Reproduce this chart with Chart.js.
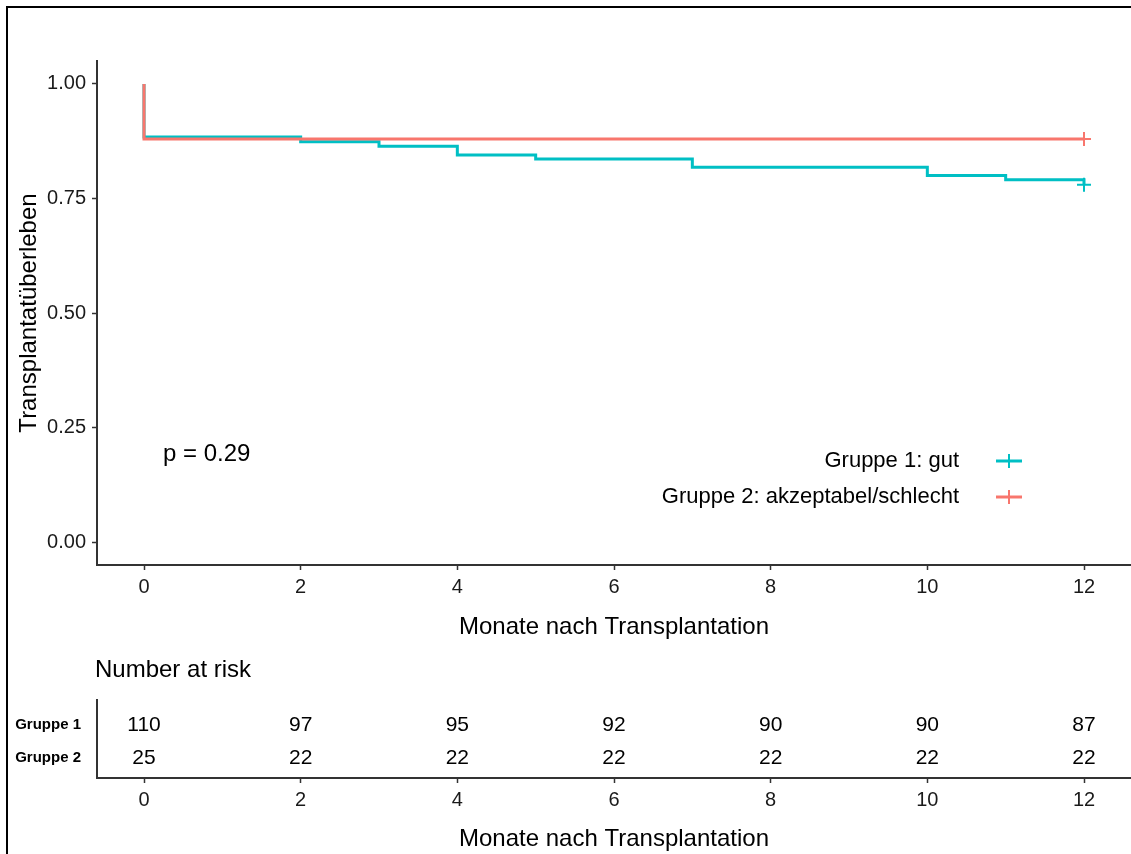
<!DOCTYPE html>
<html>
<head>
<meta charset="utf-8">
<script src="https://cdn.jsdelivr.net/npm/chart.js@4.4.1/dist/chart.umd.min.js"></script>
<style>
  html, body { margin: 0; padding: 0; background: #fff; }
  #page { position: relative; width: 1131px; height: 854px; overflow: hidden; }
  #frame { position: absolute; left: 6px; top: 6px; width: 1200px; height: 900px;
           border-left: 2px solid #000; border-top: 2px solid #000; }
  #kmBox { position: absolute; left: 0; top: 0; width: 1131px; height: 650px; }
  #riskBox { position: absolute; left: 0; top: 650px; width: 1131px; height: 204px; }
</style>
</head>
<body>
<div id="page">
  <div id="frame"></div>
  <div id="kmBox"><canvas id="km"></canvas></div>
  <div id="riskBox"><canvas id="risk"></canvas></div>
</div>
<script>
// values
const months = [0, 2, 4, 6, 8, 10, 12];
const yTicks = [0, 0.25, 0.5, 0.75, 1];
const g1Times = [0, 0, 2, 3, 4, 5, 7, 10, 11, 12];
const g1Surv = [1, 0.884, 0.874, 0.864, 0.845, 0.836, 0.818, 0.800, 0.791, 0.780];
const g2Times = [0, 0, 12];
const g2Surv = [1, 0.880, 0.880];
const censorTimes = [12];
const g1Censor = [0.780];
const g2Censor = [0.880];
const riskG1 = [110, 97, 95, 92, 90, 90, 87];
const riskG2 = [25, 22, 22, 22, 22, 22, 22];
const groupNames = ['Gruppe 1: gut', 'Gruppe 2: akzeptabel/schlecht'];
const rowNames = ['Gruppe 1', 'Gruppe 2'];
const pText = 'p = 0.29';

const FONT = "'Liberation Sans', Arial, sans-serif";
const TEAL = '#00BFC4';
const RED = '#F8766D';
const AXIS = '#333333';

Chart.defaults.font.family = FONT;
Chart.defaults.color = '#1a1a1a';

function pts(xs, ys) {
  return xs.map((x, i) => ({ x: x, y: ys[i] }));
}

const kmExtras = {
  id: 'kmExtras',
  afterDraw(chart) {
    const ctx = chart.ctx;
    ctx.save();
    ctx.fillStyle = '#000';
    ctx.font = '24px ' + FONT;
    ctx.textBaseline = 'middle';
    ctx.textAlign = 'left';
    ctx.fillText(pText, 163, 454);

    // legend, text on the left of the keys
    const colors = [TEAL, RED];
    const rows = [461, 497];
    ctx.font = '22px ' + FONT;
    ctx.textAlign = 'right';
    groupNames.forEach((name, i) => {
      ctx.fillStyle = '#000';
      ctx.fillText(name, 959, rows[i]);
      ctx.strokeStyle = colors[i];
      ctx.lineWidth = 3;
      ctx.beginPath();
      ctx.moveTo(996, rows[i]);
      ctx.lineTo(1022, rows[i]);
      ctx.stroke();
      ctx.lineWidth = 2;
      ctx.beginPath();
      ctx.moveTo(1009, rows[i] - 7);
      ctx.lineTo(1009, rows[i] + 7);
      ctx.stroke();
    });
    ctx.restore();
  }
};

new Chart(document.getElementById('km'), {
  type: 'scatter',
  data: {
    datasets: [
      { label: groupNames[1], data: pts(g2Times, g2Surv), showLine: true, stepped: true,
        borderColor: RED, borderWidth: 3, pointRadius: 0, fill: false },
      { label: groupNames[0], data: pts(g1Times, g1Surv), showLine: true, stepped: true,
        borderColor: TEAL, borderWidth: 3, pointRadius: 0, fill: false },
      { label: 'censor2', data: pts(censorTimes, g2Censor), pointStyle: 'cross',
        pointRadius: 7, borderColor: RED, pointBorderWidth: 2 },
      { label: 'censor1', data: pts(censorTimes, g1Censor), pointStyle: 'cross',
        pointRadius: 7, borderColor: TEAL, pointBorderWidth: 2 }
    ]
  },
  options: {
    responsive: true,
    maintainAspectRatio: false,
    animation: false,
    layout: { autoPadding: false, padding: { left: 0, right: 0, top: 61, bottom: 0 } },
    plugins: { legend: { display: false }, tooltip: { enabled: false } },
    scales: {
      x: {
        type: 'linear', min: -0.6, max: 12.6,
        afterBuildTicks: s => { s.ticks = months.map(v => ({ value: v })); },
        afterFit: s => { s.height = 85; s.paddingLeft = 0; s.paddingRight = 0; },
        grid: { drawOnChartArea: false, tickLength: 5, tickColor: AXIS, tickWidth: 1.5 },
        border: { color: AXIS, width: 2 },
        ticks: { font: { size: 20 }, padding: 5, callback: v => String(v) },
        title: { display: true, text: 'Monate nach Transplantation', color: '#000',
                 font: { size: 24 }, padding: { top: 0, bottom: 8 } }
      },
      y: {
        type: 'linear', min: -0.05, max: 1.05,
        afterBuildTicks: s => { s.ticks = yTicks.map(v => ({ value: v })); },
        afterFit: s => { s.width = 97; s.paddingTop = 0; s.paddingBottom = 0; },
        grid: { drawOnChartArea: false, tickLength: 5, tickColor: AXIS, tickWidth: 1.5 },
        border: { color: AXIS, width: 2 },
        ticks: { font: { size: 20 }, padding: 6, callback: v => v.toFixed(2) },
        title: { display: true, text: 'Transplantatüberleben', color: '#000',
                 font: { size: 24 }, padding: { top: 15, bottom: 0 } }
      }
    }
  },
  plugins: [kmExtras]
});

// number at risk table
const riskLabels = {
  id: 'riskLabels',
  afterDatasetsDraw(chart) {
    const ctx = chart.ctx;
    ctx.save();
    ctx.fillStyle = '#000';
    ctx.font = '21px ' + FONT;
    ctx.textAlign = 'center';
    ctx.textBaseline = 'middle';
    chart.data.datasets.forEach((ds, di) => {
      chart.getDatasetMeta(di).data.forEach((el, i) => {
        ctx.fillText(String(ds.data[i].n), el.x, el.y);
      });
    });
    ctx.font = '24px ' + FONT;
    ctx.textAlign = 'left';
    ctx.fillText('Number at risk', 95, 20);
    ctx.restore();
  }
};

new Chart(document.getElementById('risk'), {
  type: 'scatter',
  data: {
    datasets: [
      { label: rowNames[0], data: months.map((m, i) => ({ x: m, y: 2, n: riskG1[i] })), pointRadius: 0 },
      { label: rowNames[1], data: months.map((m, i) => ({ x: m, y: 1, n: riskG2[i] })), pointRadius: 0 }
    ]
  },
  options: {
    responsive: true,
    maintainAspectRatio: false,
    animation: false,
    layout: { autoPadding: false, padding: { left: 0, right: 0, top: 50, bottom: 0 } },
    plugins: { legend: { display: false }, tooltip: { enabled: false } },
    scales: {
      x: {
        type: 'linear', min: -0.6, max: 12.6,
        afterBuildTicks: s => { s.ticks = months.map(v => ({ value: v })); },
        afterFit: s => { s.height = 76; s.paddingLeft = 0; s.paddingRight = 0; },
        grid: { drawOnChartArea: false, tickLength: 5, tickColor: AXIS, tickWidth: 1.5 },
        border: { color: AXIS, width: 2 },
        ticks: { font: { size: 20 }, padding: 5, callback: v => String(v) },
        title: { display: true, text: 'Monate nach Transplantation', color: '#000',
                 font: { size: 24 }, padding: { top: 0, bottom: 0 } }
      },
      y: {
        type: 'linear', min: 0.39, max: 2.76,
        afterBuildTicks: s => { s.ticks = [2, 1].map(v => ({ value: v })); },
        afterFit: s => { s.width = 97; s.paddingTop = 0; s.paddingBottom = 0; },
        grid: { display: true, drawOnChartArea: false, drawTicks: false },
        border: { color: AXIS, width: 2 },
        ticks: { font: { size: 15, weight: 'bold' }, color: '#000', padding: 16,
                 callback: v => rowNames[2 - v] }
      }
    }
  },
  plugins: [riskLabels]
});
</script>
</body>
</html>
